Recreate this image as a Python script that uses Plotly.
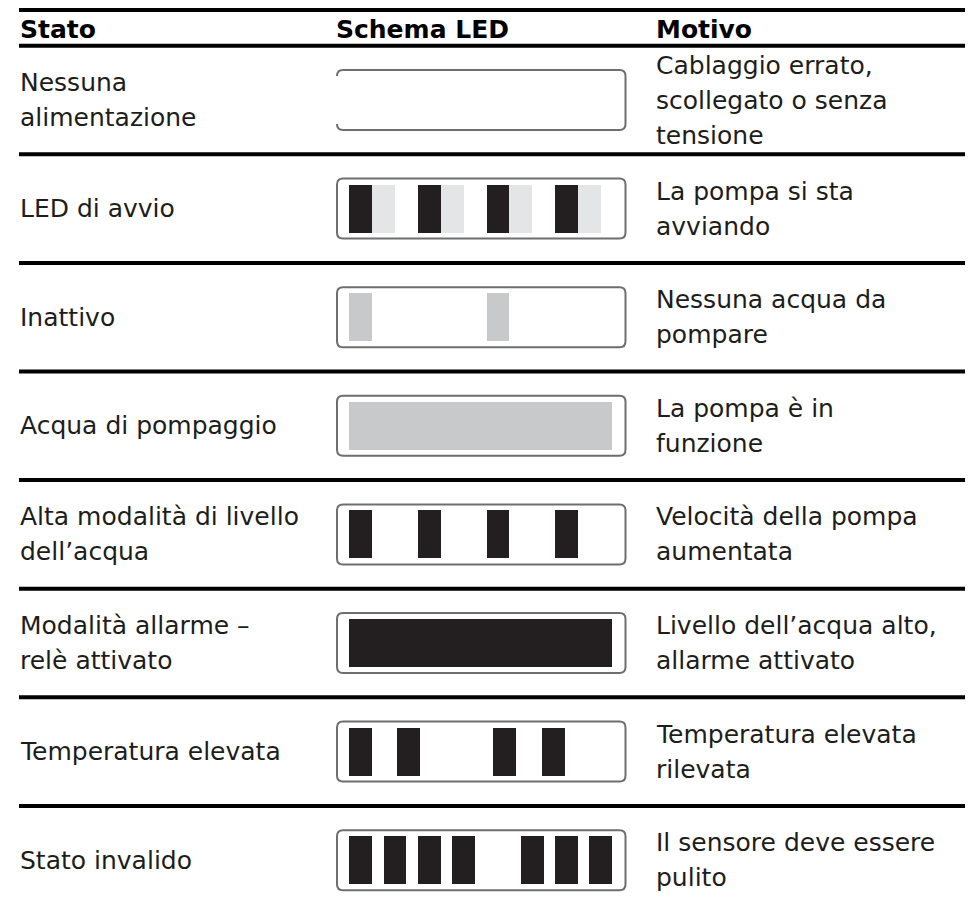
import plotly.graph_objects as go

# ---------------- data ----------------
headers = ["Stato", "Schema LED", "Motivo"]

stato = [
    "Nessuna<br>alimentazione",
    "LED di avvio",
    "Inattivo",
    "Acqua di pompaggio",
    "Alta modalità di livello<br>dell’acqua",
    "Modalità allarme –<br>relè attivato",
    "Temperatura elevata",
    "Stato invalido",
]

motivo = [
    "Cablaggio errato,<br>scollegato o senza<br>tensione",
    "La pompa si sta<br>avviando",
    "Nessuna acqua da<br>pompare",
    "La pompa è in<br>funzione",
    "Velocità della pompa<br>aumentata",
    "Livello dell’acqua alto,<br>allarme attivato",
    "Temperatura elevata<br>rilevata",
    "Il sensore deve essere<br>pulito",
]

# LED segments per row: (start, end, kind) in LED units (inner width = 23)
led_patterns = [
    [],
    [(0, 2, "k"), (2, 4, "l"), (6, 8, "k"), (8, 10, "l"),
     (12, 14, "k"), (14, 16, "l"), (18, 20, "k"), (20, 22, "l")],
    [(0, 2, "g"), (12, 14, "g")],
    [(0, 23, "g")],
    [(0, 2, "k"), (6, 8, "k"), (12, 14, "k"), (18, 20, "k")],
    [(0, 23, "k")],
    [(0, 2, "k"), (4.15, 6.15, "k"), (12.6, 14.6, "k"), (16.85, 18.85, "k")],
    [(0, 2, "k"), (3, 5, "k"), (6, 8, "k"), (9, 11, "k"),
     (15, 17, "k"), (18, 20, "k"), (21, 23, "k")],
]

# ---------------- styles / layout constants ----------------
W, H = 969, 909
ROW_PX = 108.6
ROW0_CENTER_PX = 100.0
UNIT_PX = 263.0 / 23.0
LED_X0_PX = 349.3

colors = {"k": "#231f20", "g": "#c8c9ca", "l": "#e4e5e6"}
TEXT_COLOR = "#1d1d1b"
FONT = "DejaVu Sans"
FS = 25
LINE_PX = 35.0


def ypx(px):
    return (px - ROW0_CENTER_PX) / ROW_PX


yr = [ypx(H), ypx(0)]
xr = [-LED_X0_PX / UNIT_PX, (W - LED_X0_PX) / UNIT_PX]

fig = go.Figure()

# LED bars
for kind in ["k", "g", "l"]:
    ys, xs, bases = [], [], []
    for r, pat in enumerate(led_patterns):
        for s, e, k in pat:
            if k == kind:
                ys.append(r)
                xs.append(e - s)
                bases.append(s)
    fig.add_trace(go.Bar(
        orientation="h", y=ys, x=xs, base=bases,
        width=48.0 / ROW_PX,
        marker=dict(color=colors[kind], line=dict(width=0)),
        hoverinfo="skip", showlegend=False,
    ))

shapes = []
# horizontal rules
rule_ys = [ypx(10), -0.5] + [r + 0.5 for r in range(len(stato) - 1)]
for y in rule_ys:
    shapes.append(dict(type="line", xref="paper", yref="y",
                       x0=19 / W, x1=965 / W, y0=y, y1=y,
                       line=dict(color="#000000", width=4)))

# LED box outlines
bx0 = (337.0 - LED_X0_PX) / UNIT_PX
bx1 = (625.5 - LED_X0_PX) / UNIT_PX
hh = 30.0 / ROW_PX
rx = 6.0 / UNIT_PX
ry = 6.0 / ROW_PX
for r in range(len(stato)):
    t, b = r - hh, r + hh
    if r == 0:
        path = (f"M {bx0},{b-ry} Q {bx0},{b} {bx0+rx},{b} L {bx1-rx},{b} "
                f"Q {bx1},{b} {bx1},{b-ry} L {bx1},{t+ry} Q {bx1},{t} {bx1-rx},{t} "
                f"L {bx0+rx},{t} Q {bx0},{t} {bx0},{t+ry}")
    else:
        path = (f"M {bx0+rx},{t} L {bx1-rx},{t} Q {bx1},{t} {bx1},{t+ry} "
                f"L {bx1},{b-ry} Q {bx1},{b} {bx1-rx},{b} L {bx0+rx},{b} "
                f"Q {bx0},{b} {bx0},{b-ry} L {bx0},{t+ry} Q {bx0},{t} {bx0+rx},{t} Z")
    shapes.append(dict(type="path", xref="x", yref="y", path=path,
                       line=dict(color="#6e6e6e", width=2),
                       fillcolor="rgba(0,0,0,0)"))

annotations = []
# headers
for txt, xp in zip(headers, [18, 334, 654]):
    annotations.append(dict(text=f"<b>{txt}</b>", xref="paper", yref="y",
                            x=xp / W, y=ypx(29.5), xanchor="left", yanchor="middle",
                            showarrow=False,
                            font=dict(family=FONT, size=25, color="#000000")))

# cell texts, one annotation per line
for col_x, texts in [(18, stato), (654, motivo)]:
    for r, txt in enumerate(texts):
        lines = txt.split("<br>")
        n = len(lines)
        for k, ln in enumerate(lines):
            y = r + (k - (n - 1) / 2) * LINE_PX / ROW_PX
            annotations.append(dict(text=ln, xref="paper", yref="y",
                                    x=col_x / W, y=y, xanchor="left", yanchor="middle",
                                    showarrow=False,
                                    font=dict(family=FONT, size=FS, color=TEXT_COLOR)))

fig.update_layout(
    width=W, height=H,
    margin=dict(l=0, r=0, t=0, b=0),
    paper_bgcolor="white", plot_bgcolor="white",
    barmode="overlay", bargap=0,
    xaxis=dict(range=xr, visible=False, fixedrange=True),
    yaxis=dict(range=yr, visible=False, fixedrange=True),
    shapes=shapes, annotations=annotations,
    showlegend=False,
)

fig.write_html("out.html",
               config={"displayModeBar": False},
               post_script="document.body.style.margin='0';document.body.style.padding='0';")
